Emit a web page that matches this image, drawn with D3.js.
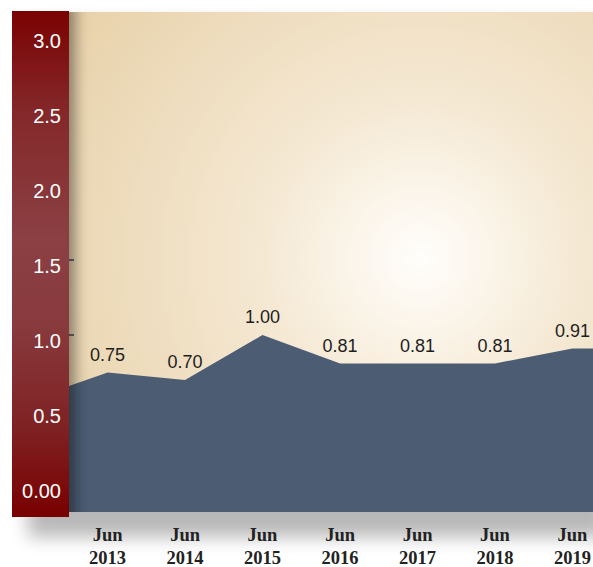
<!DOCTYPE html>
<html>
<head>
<meta charset="utf-8">
<script src="https://cdn.jsdelivr.net/npm/d3@7"></script>
<style>
  html, body { margin: 0; padding: 0; background: #ffffff; }
  svg { display: block; }
</style>
</head>
<body>
<svg id="chart" width="593" height="567"></svg>
<script>
// Series: dates of each observation and its value
const dates = ["2012-12-15", "2013-06-15", "2014-06-15", "2015-06-15", "2016-06-15", "2017-06-15", "2018-06-15", "2019-06-15"];
const values = [0.66, 0.75, 0.70, 1.00, 0.81, 0.81, 0.81, 0.91];
// Value labels shown above the labelled points (all but the first)
const valueLabels = ["", "0.75", "0.70", "1.00", "0.81", "0.81", "0.81", "0.91"];
// Axis ticks
const yTicks = [0, 0.5, 1.0, 1.5, 2.0, 2.5, 3.0];
const yTickLabels = ["0.00", "0.5", "1.0", "1.5", "2.0", "2.5", "3.0"];
const yTickMarks = [1.0, 1.5];
const xTickDates = ["2013-06-15", "2014-06-15", "2015-06-15", "2016-06-15", "2017-06-15", "2018-06-15", "2019-06-15"];
const xTickMonths = ["Jun", "Jun", "Jun", "Jun", "Jun", "Jun", "Jun"];
const xTickYears = ["2013", "2014", "2015", "2016", "2017", "2018", "2019"];

const parse = d3.timeParse("%Y-%m-%d");
const svg = d3.select("#chart");
const defs = svg.append("defs");

// Layout
const band = { x: 12, y: 11, w: 57, h: 506 };
const plot = { x: 69, y: 12, w: 524, h: 500 };

// Scales
const x = d3.scaleTime()
  .domain([parse("2012-12-15"), parse("2019-09-20")])
  .range([plot.x, plot.x + plot.w]);
const y = d3.scaleLinear().domain([0, 3]).range([485, 35]);

// Gradients
const rg = defs.append("radialGradient")
  .attr("id", "bgGrad").attr("gradientUnits", "userSpaceOnUse")
  .attr("cx", 420).attr("cy", 258).attr("r", 440);
[[0, "#fffefb"], [0.12, "#fcf7ee"], [0.35, "#f5e9d4"], [0.7, "#eddbbb"], [1, "#e7d0a7"]]
  .forEach(([o, c]) => rg.append("stop").attr("offset", o).attr("stop-color", c));

const lg = defs.append("linearGradient")
  .attr("id", "bandGrad").attr("x1", 0).attr("y1", 0).attr("x2", 0).attr("y2", 1);
[[0, "#7b0202"], [0.2, "#84282a"], [0.45, "#8b4043"], [0.62, "#883a3d"], [0.82, "#7f2224"], [1, "#790000"]]
  .forEach(([o, c]) => lg.append("stop").attr("offset", o).attr("stop-color", c));

// Blur filters for shadows
defs.append("filter").attr("id", "blurOuter")
  .attr("x", "-20%").attr("y", "-20%").attr("width", "140%").attr("height", "140%")
  .append("feGaussianBlur").attr("stdDeviation", 9);
defs.append("filter").attr("id", "blurBand")
  .attr("x", "-100%").attr("y", "-10%").attr("width", "300%").attr("height", "120%")
  .append("feGaussianBlur").attr("stdDeviation", 7);

defs.append("clipPath").attr("id", "plotClip")
  .append("rect").attr("x", plot.x).attr("y", plot.y).attr("width", plot.w).attr("height", plot.h);

// Drop shadow under the whole chart body
svg.append("rect")
  .attr("x", band.x + 16).attr("y", band.y + 12)
  .attr("width", plot.x + plot.w - band.x).attr("height", band.h + 8)
  .attr("fill", "#000").attr("opacity", 0.28)
  .attr("filter", "url(#blurOuter)");

// Plot background
svg.append("rect")
  .attr("x", plot.x).attr("y", plot.y).attr("width", plot.w + 10).attr("height", plot.h)
  .attr("fill", "url(#bgGrad)");

const g = svg.append("g").attr("clip-path", "url(#plotClip)");

// Tick marks on the plot edge
g.selectAll("line.tick")
  .data(yTickMarks)
  .join("line")
  .attr("class", "tick")
  .attr("x1", plot.x).attr("x2", plot.x + 5)
  .attr("y1", d => y(d)).attr("y2", d => y(d))
  .attr("stroke", "#6b6b6b").attr("stroke-width", 2);

// Area series, held flat from the last point to the right edge
const pts = dates.map((d, i) => ({ t: parse(d), v: values[i] }));
const area = d3.area()
  .x(d => d.px)
  .y0(plot.y + plot.h)
  .y1(d => y(d.v));
const areaPts = pts.map(p => ({ px: x(p.t), v: p.v }));
areaPts.push({ px: x.range()[1] + 5, v: pts[pts.length - 1].v });
g.append("path")
  .datum(areaPts)
  .attr("d", area)
  .attr("fill", "#4c5d73");

// Shadow cast by the axis band onto the plot
g.append("rect")
  .attr("x", band.x + 6).attr("y", band.y - 10)
  .attr("width", band.w).attr("height", band.h + 20)
  .attr("fill", "#000").attr("opacity", 0.42)
  .attr("filter", "url(#blurBand)");

// Axis band
svg.append("rect")
  .attr("x", band.x).attr("y", band.y).attr("width", band.w).attr("height", band.h)
  .attr("fill", "url(#bandGrad)");

// Y tick labels
svg.append("g")
  .selectAll("text")
  .data(yTicks)
  .join("text")
  .attr("x", 61)
  .attr("y", d => y(d) + 13)
  .attr("text-anchor", "end")
  .attr("font-family", "Liberation Sans, Arial, sans-serif")
  .attr("font-size", 20)
  .attr("fill", "#ffffff")
  .text((d, i) => yTickLabels[i]);

// Value labels
svg.append("g")
  .selectAll("text")
  .data(pts.filter((p, i) => valueLabels[i] !== ""))
  .join("text")
  .attr("x", d => x(d.t))
  .attr("y", d => y(d.v) - 12)
  .attr("text-anchor", "middle")
  .attr("font-family", "Liberation Sans, Arial, sans-serif")
  .attr("font-size", 18)
  .attr("fill", "#1e1e1e")
  .text(d => valueLabels[pts.indexOf(d)]);

// X tick labels (two lines)
const xt = svg.append("g")
  .selectAll("text")
  .data(xTickDates)
  .join("text")
  .attr("text-anchor", "middle")
  .attr("font-family", "Liberation Serif, Times New Roman, serif")
  .attr("font-weight", "bold")
  .attr("font-size", 18.5)
  .attr("fill", "#222222");
xt.append("tspan")
  .attr("x", d => x(parse(d)))
  .attr("y", 541)
  .text((d, i) => xTickMonths[i]);
xt.append("tspan")
  .attr("x", d => x(parse(d)))
  .attr("y", 564)
  .text((d, i) => xTickYears[i]);
</script>
</body>
</html>
